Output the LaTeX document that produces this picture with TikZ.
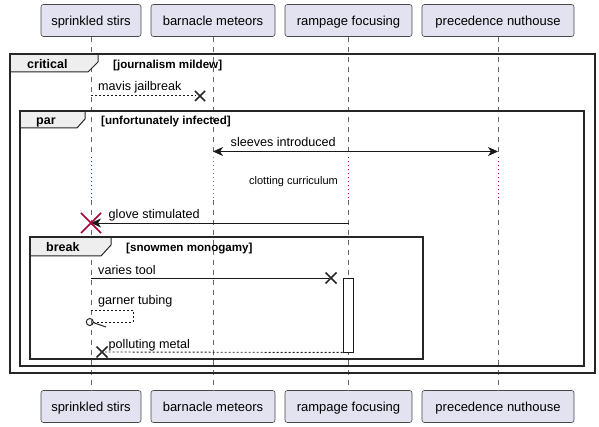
\documentclass[tikz,border=0pt]{standalone}
\usepackage{fontspec}
\setmainfont{Liberation Sans}
\usetikzlibrary{arrows.meta}
\definecolor{partfill}{HTML}{E2E2F0}
\definecolor{partdraw}{HTML}{181818}
\definecolor{tabfill}{HTML}{EEEEEE}
\definecolor{delayc}{HTML}{A80036}
\begin{document}
\begin{tikzpicture}[x=1pt,y=-1pt,
  part/.style={draw=partdraw!80, fill=partfill, rounded corners=2.5pt, minimum height=32pt, inner sep=0pt, line width=0.6pt, text height=13pt, text depth=2.6pt, font=\fontsize{13}{15}\selectfont},
  lifeline/.style={draw=black!60, dash pattern=on 5pt off 5pt, line width=0.7pt},
  delayline/.style={draw=delayc, dash pattern=on 1pt off 3pt, line width=0.9pt},
  frameline/.style={draw=black!85, line width=1.5pt},
  tabshape/.style={draw=black!85, fill=tabfill, line width=1pt},
  framelabel/.style={anchor=west, inner sep=0pt, text height=9pt, text depth=0pt, font=\fontsize{12.5}{14}\bfseries\selectfont},
  condlabel/.style={anchor=west, inner sep=0pt, text height=8.2pt, text depth=0pt, font=\fontsize{11.6}{13}\bfseries\selectfont},
  msgtext/.style={anchor=west, inner sep=0pt, text height=9pt, text depth=2.6pt, font=\fontsize{12.6}{14}\selectfont},
  smalltext/.style={inner sep=0pt, text height=8pt, text depth=2.3pt, font=\fontsize{11}{13}\selectfont},
  msg/.style={draw=black!90, line width=0.9pt},
  dmsg/.style={draw=black!90, line width=0.9pt, dash pattern=on 2pt off 2pt},
  cross/.style={draw=black!85, line width=1.6pt},
  redcross/.style={draw=delayc, line width=1.6pt},
  tip/.tip={Stealth[length=10pt,width=9pt,inset=3pt]},
  actbox/.style={draw=black!90, fill=white, line width=0.9pt, minimum width=10pt, minimum height=74pt, inner sep=0pt}
]
\useasboundingbox (0,0) rectangle (599,427);

% participants
\node[part, minimum width=100pt] (a) at (91,20.5) {sprinkled stirs};
\node[part, minimum width=124pt] (b) at (213,20.5) {barnacle meteors};
\node[part, minimum width=127pt] (c) at (348.5,20.5) {rampage focusing};
\node[part, minimum width=152pt] (d) at (498,20.5) {precedence nuthouse};
\node[part, minimum width=100pt] (a2) at (91,406.5) {sprinkled stirs};
\node[part, minimum width=124pt] (b2) at (213,406.5) {barnacle meteors};
\node[part, minimum width=127pt] (c2) at (348.5,406.5) {rampage focusing};
\node[part, minimum width=152pt] (d2) at (498,406.5) {precedence nuthouse};

% row coordinates
\coordinate (dtop) at (0,157);
\coordinate (dbot) at (0,200);
\coordinate (r1) at (0,95.5);
\coordinate (r2) at (0,151.5);
\coordinate (r3) at (0,223);
\coordinate (r4) at (0,278.5);
\coordinate (r5a) at (0,310);
\coordinate (r5b) at (0,322);
\coordinate (r6) at (0,352);

% lifelines
\foreach \p in {a,b,c,d}{
  \draw[lifeline] (\p.south) -- (\p |- dtop);
  \draw[lifeline] (\p |- dbot) -- (\p2.north);
}
\draw[delayline] (a |- dtop) -- (a |- dbot);
\draw[delayline, draw=black!45] (b |- dtop) -- (b |- dbot);
\draw[delayline] (c |- dtop) -- (c |- dbot);
\draw[delayline] (d |- dtop) -- (d |- dbot);

% critical frame
\draw[tabshape] (10,54) -- (98,54) -- (98,62) -- (88,72) -- (10,72);
\draw[frameline] (10,54) rectangle (595,373);
\node[framelabel] (lcrit) at (27,64) {critical};
\node[condlabel] (ccrit) at (113,64) {[journalism mildew]};

% par frame
\draw[tabshape] (20,111) -- (85,111) -- (85,119) -- (77,128) -- (20,128);
\draw[frameline] (20,111) rectangle (584,366);
\node[framelabel] (lpar) at (36,120.5) {par};
\node[condlabel] (cpar) at (101,120) {[unfortunately infected]};

% break frame
\draw[tabshape] (30,237) -- (111,237) -- (111,245) -- (101,256) -- (30,256);
\draw[frameline] (30,237) rectangle (423,359);
\node[framelabel] (lbrk) at (46,247.5) {break};
\node[condlabel] (cbrk) at (126,247.5) {[snowmen monogamy]};

% message 1: mavis jailbreak
\coordinate (x1) at (200,96);
\draw[dmsg] (a |- r1) -- (196,95.5);
\draw[cross] (x1) ++(-5,-5) -- ++(10,10) (x1) ++(-5,5) -- ++(10,-10);
\node[msgtext] (t1) at (98,87.5) {mavis jailbreak};

% message 2: sleeves introduced
\draw[msg, {tip}-{tip}] (b |- r2) -- (d |- r2);
\node[msgtext] (t2) at (230.5,143.5) {sleeves introduced};

% delay text
\node[smalltext] (t3) at (293.5,181.5) {clotting curriculum};

% message 3: glove stimulated
\draw[msg, -{tip}] (c |- r3) -- (a |- r3);
\draw[redcross] (a |- r3) ++(-10,-10) -- ++(20,20) (a |- r3) ++(-10,10) -- ++(20,-20);
\node[msgtext] (t4) at (108.5,215) {glove stimulated};

% activation
\node[actbox] (act) at (348,315) {};

% message 4: varies tool
\coordinate (x4) at (331,278);
\draw[msg] (a |- r4) -- (329,278.5);
\draw[cross] (x4) ++(-5.5,-5.5) -- ++(11,11) (x4) ++(-5.5,5.5) -- ++(11,-11);
\node[msgtext] (t5) at (98,271.5) {varies tool};

% message 5: garner tubing (self)
\draw[dmsg, line width=0.8pt] (a |- r5a) -- (133,310) -- (133,322) -- (93.5,322);
\draw[draw=black!85, line width=1pt] (89.8,322) circle (3.5pt);
\draw[draw=black!85, line width=1pt] (93,322.5) -- (106,327);
\node[msgtext] (t6) at (98,301.5) {garner tubing};

% message 6: polluting metal
\coordinate (x6) at (102,352);
\draw[dmsg] (act.south west) -- (105,352);
\draw[cross] (x6) ++(-5.5,-5.5) -- ++(11,11) (x6) ++(-5.5,5.5) -- ++(11,-11);
\node[msgtext] (t7) at (108.5,345) {polluting metal};
\end{tikzpicture}
\end{document}
